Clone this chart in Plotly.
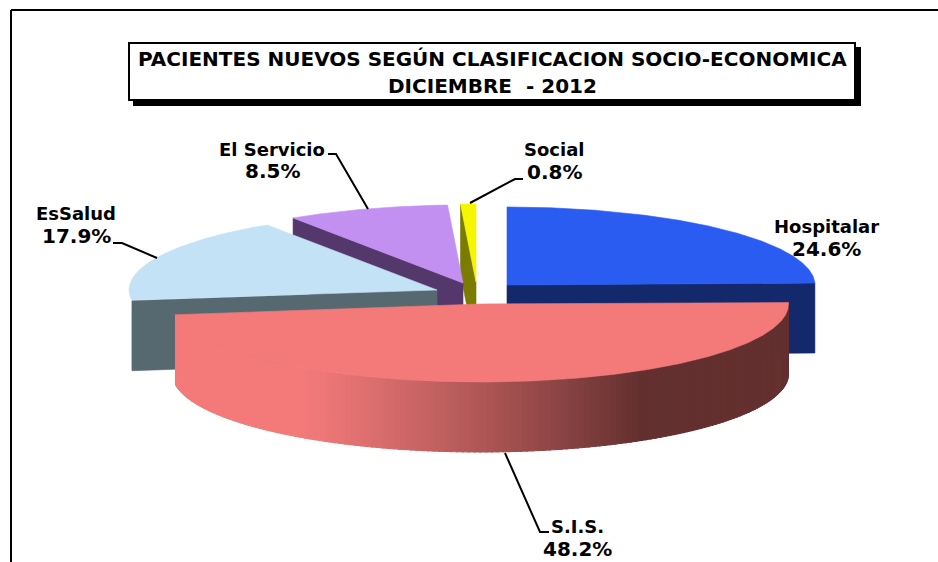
import numpy as np
import plotly.graph_objects as go

# ---- data ----
categories = ["Hospitalar", "S.I.S.", "EsSalud", "El Servicio", "Social"]
shares = [24.6, 48.2, 17.9, 8.5, 0.8]
title_lines = ["PACIENTES NUEVOS SEGÚN CLASIFICACION SOCIO-ECONOMICA", "DICIEMBRE  - 2012"]

# ---- style / layout ----
top_colors = ["#2b5cf2", "#f47a7a", "#c3e2f5", "#c190f0", "#f6f600"]
wall_colors = ["#14296b", "#63302f", "#566870", "#55386b", "#7b7b00"]
apex = [(507, 285), (480.5, 304), (437, 290), (463, 283), (476, 282)]
RX, RY, H = 308, 78, 70
draw_order = ["Social", "El Servicio", "EsSalud", "Hospitalar", "S.I.S."]
label_pos = {
    "Hospitalar": (826, 226, 249), "S.I.S.": (577, 526, 549), "EsSalud": (76, 213, 236),
    "El Servicio": (272, 149, 171), "Social": (554, 149, 172),
}
leaders = [
    ([328, 336, 368], [154, 154, 209]),
    ([113, 122, 157], [243, 243, 258]),
    ([470, 515, 523], [203, 179, 179]),
    ([505, 540, 549], [453, 532, 532]),
]
FONT = "DejaVu Sans"

fig = go.Figure()


def add_poly(xs, ys, color, lw=0.6):
    fig.add_trace(go.Scatter(x=xs, y=ys, mode="lines", fill="toself", fillcolor=color,
                             line=dict(color=color, width=lw), hoverinfo="skip", showlegend=False))


def blend(c1, c2, t):
    a = [int(c1[i:i + 2], 16) for i in (1, 3, 5)]
    b = [int(c2[i:i + 2], 16) for i in (1, 3, 5)]
    return "rgb(%d,%d,%d)" % tuple(round(p + (q - p) * t) for p, q in zip(a, b))


edges = np.cumsum([0] + shares) / sum(shares) * 2 * np.pi
for name in draw_order:
    i = categories.index(name)
    a0, a1 = edges[i], edges[i + 1]
    cx, cy = apex[i]
    th = np.linspace(a0, a1, 480)
    rim_x = cx + RX * np.sin(th)
    rim_y = cy - RY * np.cos(th)

    # radial side faces visible to the viewer
    if name == "Hospitalar":
        ex, ey = rim_x[-1], rim_y[-1]
        add_poly([cx, ex, ex, cx, cx], [cy, ey, ey + H, cy + H, cy], wall_colors[i])
    if name in ("EsSalud", "El Servicio", "Social"):
        ex, ey = rim_x[0], rim_y[0]
        add_poly([cx, ex, ex, cx, cx], [cy, ey, ey + H, cy + H, cy], wall_colors[i])

    # outer curved wall with shading
    if name == "S.I.S.":
        n = len(th)
        step = 3
        for k in range(0, n - 1, step):
            e = min(k + step + 1, n - 1)
            xm = (rim_x[k] + rim_x[e]) / 2
            t = np.clip((xm - 300) / (640 - 300), 0, 1)
            col = blend(top_colors[i], wall_colors[i], float(t) ** 1.15)
            xs = list(rim_x[k:e + 1]) + list(rim_x[k:e + 1][::-1])
            ys = list(rim_y[k:e + 1]) + list((rim_y[k:e + 1] + H)[::-1])
            add_poly(xs, ys, col, lw=1)

    # top surface
    add_poly([cx] + list(rim_x) + [cx], [cy] + list(rim_y) + [cy], top_colors[i])

# leader lines
for lx, ly in leaders:
    fig.add_trace(go.Scatter(x=lx, y=ly, mode="lines", line=dict(color="black", width=2),
                             hoverinfo="skip", showlegend=False))

# data labels
annotations = []
for name, val in zip(categories, shares):
    x, y1, y2 = label_pos[name]
    for txt, y, size in ((name, y1, 18), (f"{val:.1f}%", y2, 20)):
        annotations.append(dict(x=x, y=y, text=f"<b>{txt}</b>", showarrow=False, xref="x", yref="y",
                                xanchor="center", yanchor="middle", borderpad=0,
                                font=dict(family=FONT, size=size, color="black")))
# title
for txt, y in zip(title_lines, (59, 86)):
    annotations.append(dict(x=492.5, y=y, text=f"<b>{txt}</b>", showarrow=False, xref="x", yref="y",
                            xanchor="center", yanchor="middle",
                            font=dict(family=FONT, size=20, color="black")))

shapes = [
    dict(type="line", x0=11, x1=11, y0=10, y1=562, line=dict(color="black", width=2), xref="x", yref="y"),
    dict(type="line", x0=11, x1=938, y0=10, y1=10, line=dict(color="black", width=2), xref="x", yref="y"),
    dict(type="rect", x0=133, x1=861, y0=47, y1=106, fillcolor="black", line=dict(color="black", width=0), xref="x", yref="y"),
    dict(type="rect", x0=129, x1=855, y0=43, y1=100, fillcolor="white", line=dict(color="black", width=2), xref="x", yref="y"),
]

fig.update_layout(
    width=938, height=562, margin=dict(l=0, r=0, t=0, b=0),
    paper_bgcolor="white", plot_bgcolor="white", showlegend=False,
    xaxis=dict(range=[0, 938], visible=False, fixedrange=True),
    yaxis=dict(range=[562, 0], visible=False, fixedrange=True),
    annotations=annotations, shapes=shapes,
)
fig.write_html("out.html", config={"displayModeBar": False},
               post_script="document.body.style.margin='0';document.documentElement.style.overflow='hidden';")
